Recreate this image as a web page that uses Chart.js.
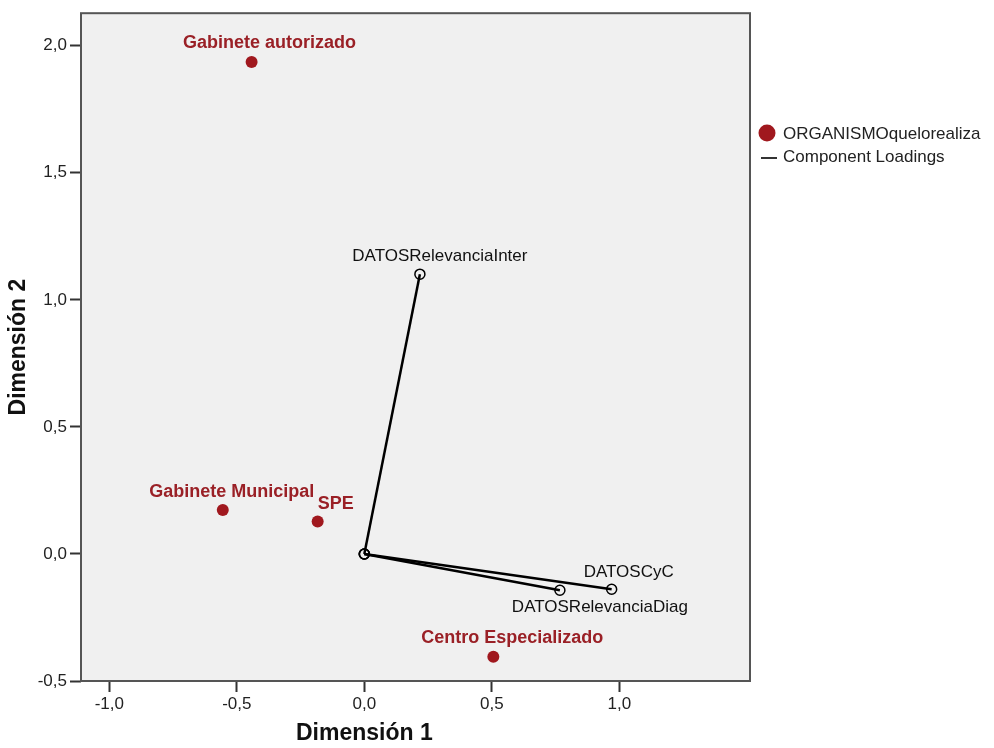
<!DOCTYPE html>
<html>
<head>
<meta charset="utf-8">
<script src="https://cdn.jsdelivr.net/npm/chart.js@4.4.1/dist/chart.umd.min.js"></script>
<style>
  html, body { margin: 0; padding: 0; background: #ffffff; }
  #wrap { width: 994px; height: 748px; }
</style>
</head>
<body>
<div id="wrap"><canvas id="c" width="994" height="748"></canvas></div>
<script>
// ---- data ----
const categories = ['Gabinete autorizado', 'Gabinete Municipal', 'SPE', 'Centro Especializado'];
const catDim1 = [-0.442, -0.555, -0.183, 0.506];
const catDim2 = [1.936, 0.173, 0.128, -0.405];

const variables = ['DATOSRelevanciaInter', 'DATOSCyC', 'DATOSRelevanciaDiag'];
const loadDim1 = [0.218, 0.970, 0.767];
const loadDim2 = [1.101, -0.139, -0.143];

const xTicks = [-1.0, -0.5, 0.0, 0.5, 1.0];
const yTicks = [-0.5, 0.0, 0.5, 1.0, 1.5, 2.0];

const legendLabels = ['ORGANISMOquelorealiza', 'Component Loadings'];
const xTitle = 'Dimensión 1';
const yTitle = 'Dimensión 2';

// ---- style ----
const RED = '#a0181e';
const RED_TEXT = '#9a2026';
const FONT = "'Liberation Sans', Arial, sans-serif";
const catLabelOffset = [[18, -19], [9, -18], [18, -17], [19, -19]];
const varLabelOffset = [[20, -18], [17, -17], [40, 17]];

const fmt = v => (Math.abs(v) < 1e-9 ? 0 : v).toFixed(1).replace('.', ',');

const datasets = [{
  label: legendLabels[0],
  data: categories.map((c, i) => ({ x: catDim1[i], y: catDim2[i] })),
  showLine: false,
  pointRadius: 6,
  pointHoverRadius: 6,
  backgroundColor: RED,
  borderColor: RED,
  pointBorderWidth: 0
}];
variables.forEach((v, i) => {
  datasets.push({
    label: v,
    data: [{ x: 0, y: 0 }, { x: loadDim1[i], y: loadDim2[i] }],
    showLine: true,
    borderColor: '#000',
    borderWidth: 2.5,
    pointRadius: 5,
    pointHoverRadius: 5,
    pointBackgroundColor: 'rgba(0,0,0,0)',
    pointBorderColor: '#000',
    pointBorderWidth: 1.5
  });
});

const framePlugin = {
  id: 'frame',
  beforeDraw(chart) {
    const { ctx, chartArea: a } = chart;
    ctx.save();
    ctx.fillStyle = '#f0f0f0';
    ctx.fillRect(a.left, a.top, a.right - a.left, a.bottom - a.top);
    ctx.restore();
  },
  afterDraw(chart) {
    const { ctx, chartArea: a, scales: { x } } = chart;
    ctx.save();
    ctx.strokeStyle = '#555';
    ctx.lineWidth = 2;
    ctx.strokeRect(a.left, a.top, a.right - a.left, a.bottom - a.top);
    // x axis title, centred on the ticked range
    const tx = (x.getPixelForValue(xTicks[0]) + x.getPixelForValue(xTicks[xTicks.length - 1])) / 2;
    ctx.fillStyle = '#111';
    ctx.font = 'bold 23px ' + FONT;
    ctx.textAlign = 'center';
    ctx.textBaseline = 'middle';
    ctx.fillText(xTitle, tx, 734);
    // legend
    const lx = a.right + 17;
    ctx.fillStyle = RED;
    ctx.beginPath();
    ctx.arc(lx, 133, 8.5, 0, Math.PI * 2);
    ctx.fill();
    ctx.strokeStyle = '#333';
    ctx.lineWidth = 2;
    ctx.beginPath();
    ctx.moveTo(lx - 6, 158);
    ctx.lineTo(lx + 10, 158);
    ctx.stroke();
    ctx.fillStyle = '#222';
    ctx.font = '17px ' + FONT;
    ctx.textAlign = 'left';
    ctx.textBaseline = 'middle';
    ctx.fillText(legendLabels[0], lx + 16, 134);
    ctx.fillText(legendLabels[1], lx + 16, 157);
    ctx.restore();
  },
  afterDatasetsDraw(chart) {
    const { ctx, scales: { x, y } } = chart;
    ctx.save();
    ctx.textAlign = 'center';
    ctx.textBaseline = 'middle';
    ctx.font = 'bold 18px ' + FONT;
    ctx.fillStyle = RED_TEXT;
    categories.forEach((c, i) => {
      const px = x.getPixelForValue(catDim1[i]);
      const py = y.getPixelForValue(catDim2[i]);
      ctx.fillText(c, px + catLabelOffset[i][0], py + catLabelOffset[i][1]);
    });
    ctx.font = '17px ' + FONT;
    ctx.fillStyle = '#111';
    variables.forEach((v, i) => {
      const px = x.getPixelForValue(loadDim1[i]);
      const py = y.getPixelForValue(loadDim2[i]);
      ctx.fillText(v, px + varLabelOffset[i][0], py + varLabelOffset[i][1]);
    });
    ctx.restore();
  }
};

new Chart(document.getElementById('c'), {
  type: 'scatter',
  data: { datasets },
  plugins: [framePlugin],
  options: {
    responsive: false,
    animation: false,
    devicePixelRatio: 1,
    layout: { padding: { left: 0, top: 10, right: 244, bottom: 0 } },
    plugins: { legend: { display: false }, tooltip: { enabled: false } },
    scales: {
      x: {
        type: 'linear',
        min: -1.111,
        max: 1.5125,
        afterBuildTicks(s) { s.ticks = xTicks.map(v => ({ value: v })); },
        afterFit(s) { s.height = 67; },
        ticks: { callback: v => fmt(v), color: '#222', font: { family: FONT, size: 17 }, padding: 2, maxRotation: 0, autoSkip: false },
        grid: { display: true, drawOnChartArea: false, drawTicks: true, tickLength: 11, tickColor: '#333', tickWidth: 2 },
        border: { display: false },
        title: { display: false }
      },
      y: {
        type: 'linear',
        min: -0.5,
        max: 2.128,
        afterBuildTicks(s) { s.ticks = yTicks.map(v => ({ value: v })); },
        afterFit(s) { s.width = 81; },
        ticks: { callback: v => fmt(v), color: '#222', font: { family: FONT, size: 17 }, padding: 3, autoSkip: false },
        grid: { display: true, drawOnChartArea: false, drawTicks: true, tickLength: 11, tickColor: '#333', tickWidth: 2 },
        border: { display: false },
        title: { display: true, text: yTitle, color: '#111', font: { family: FONT, size: 23, weight: 'bold' }, padding: { top: 5, bottom: 0 } }
      }
    }
  }
});
</script>
</body>
</html>
